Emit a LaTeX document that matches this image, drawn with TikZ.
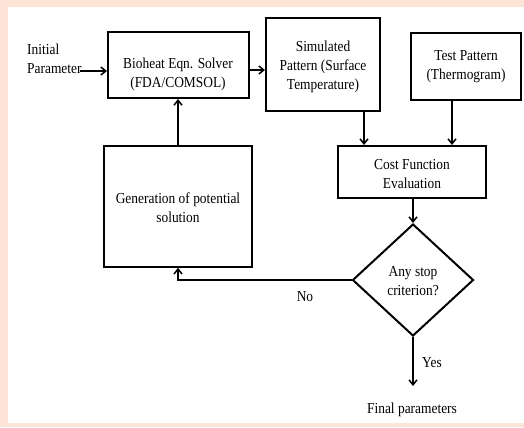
\documentclass[tikz,border=0pt]{standalone}
\usepackage{fontspec}
\setmainfont[FakeStretch=0.88]{Liberation Serif}
\usetikzlibrary{arrows.meta,shapes.geometric}
\definecolor{peach}{HTML}{FDE4D7}
\begin{document}
\begin{tikzpicture}[x=1bp,y=-1bp,
  box/.style={draw, line width=2bp, inner sep=0pt},
  lbl/.style={font=\fontsize{15.3}{19}\selectfont, align=center, inner sep=0pt},
  arr/.style={line width=1.5bp, -{Straight Barb[length=5bp,width=8bp]}}]
\useasboundingbox (0,0) rectangle (524,427);
\fill[peach] (0,0) rectangle (524,427);
\fill[white] (8,7) rectangle (524,423);
% boxes
\node[box, minimum width=141bp, minimum height=66bp] (bio) at (178.5,65) {};
\node[box, minimum width=114bp, minimum height=93bp] (sim) at (323,64.5) {};
\node[box, minimum width=110bp, minimum height=67bp] (test) at (466,66.5) {};
\node[box, line width=1.6bp, minimum width=148bp, minimum height=121bp] (gen) at (178,206.5) {};
\node[box, minimum width=148bp, minimum height=52bp] (cost) at (412,172) {};
\node[box, diamond, minimum width=121bp, minimum height=112bp] (dec) at (413,280) {};
% texts
\node[lbl] (tbio) at (178,74) {Bioheat Eqn. Solver\\(FDA/COMSOL)};
\node[lbl] (tsim) at (323,67) {Simulated\\Pattern (Surface\\Temperature)};
\node[lbl] (ttest) at (466,67) {Test Pattern\\(Thermogram)};
\node[lbl] (tgen) at (178,208) {Generation of potential\\solution};
\node[lbl] (tcost) at (412,174) {Cost Function\\Evaluation};
\node[lbl] (tdec) at (413,281) {Any stop\\criterion?};
\node[lbl, align=left, anchor=west] (init) at (27,59) {Initial\\Parameter};
\node[lbl] (no) at (305,297) {No};
\node[lbl] (yes) at (432,363) {Yes};
\node[lbl] (final) at (412,410) {Final parameters};
\coordinate (ia) at (80,71);
\coordinate (yesend) at (413,386);
% connectors
\draw[arr] (ia) -- (ia -| bio.west);
\draw[arr] (bio.east |- 0,70) -- (sim.west |- 0,70);
\draw[arr] (sim.south -| 364,0) -- (cost.north -| 364,0);
\draw[arr] (test.south -| 452,0) -- (cost.north -| 452,0);
\draw[arr] (cost.south -| dec) -- (dec.north);
\draw[arr] (dec.west) -- (dec.west -| gen) -- (gen.south);
\draw[arr] (gen.north) -- (gen.north |- bio.south);
\draw[arr] (dec.south) -- (yesend);
\end{tikzpicture}
\end{document}
